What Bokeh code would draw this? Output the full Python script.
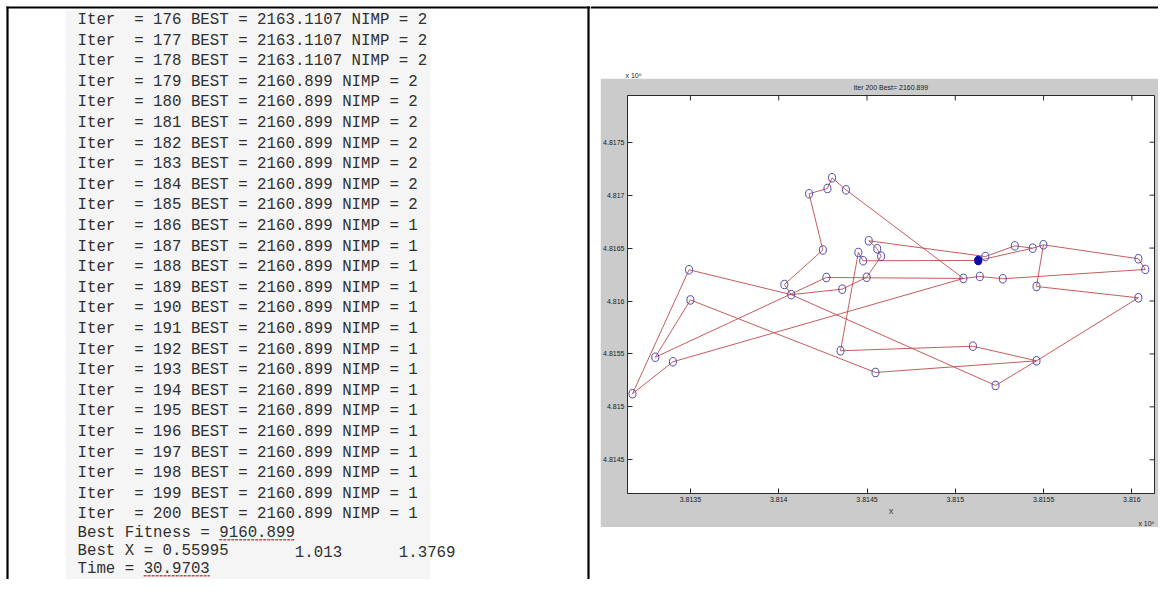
import math
from bokeh.plotting import figure
from bokeh.models import Range1d, FixedTicker, Spacer, ColumnDataSource, Title
from bokeh.layouts import row, column
from bokeh.embed import file_html
from bokeh.resources import INLINE
from bokeh.core.properties import value

# ---------------- console log (left panel) ----------------
iterations = [176, 177, 178, 179, 180, 181, 182, 183, 184, 185, 186, 187, 188,
              189, 190, 191, 192, 193, 194, 195, 196, 197, 198, 199, 200]
best_cost = ["2163.1107", "2163.1107", "2163.1107", "2160.899", "2160.899",
             "2160.899", "2160.899", "2160.899", "2160.899", "2160.899",
             "2160.899", "2160.899", "2160.899", "2160.899", "2160.899",
             "2160.899", "2160.899", "2160.899", "2160.899", "2160.899",
             "2160.899", "2160.899", "2160.899", "2160.899", "2160.899"]
nimp = [2, 2, 2, 2, 2, 2, 2, 2, 2, 2, 1, 1, 1, 1, 1, 1, 1, 1, 1, 1, 1, 1, 1, 1, 1]
best_fitness = "9160.899"
best_x = ["0.55995", "1.013", "1.3769"]
elapsed_time = "30.9703"

# ---------------- TSP tour (right panel), units of 1e6 ----------------
city_x = [3.813172, 3.813301, 3.813401, 3.813492, 3.813500, 3.814032, 3.814071,
          3.814172, 3.814276, 3.814302, 3.814381, 3.814250, 3.814270, 3.814360,
          3.814510, 3.814451, 3.814478, 3.814558, 3.814580, 3.814498, 3.815046,
          3.814350, 3.814548, 3.815130, 3.815170, 3.815139, 3.815269, 3.815337,
          3.815438, 3.815499, 3.815460, 3.816037, 3.816076, 3.816037, 3.815100,
          3.815460, 3.815228]
city_y = [4.815124, 4.815469, 4.815426, 4.816295, 4.816010, 4.816156, 4.816060,
          4.817013, 4.817063, 4.817164, 4.817050, 4.816482, 4.816222, 4.816112,
          4.816569, 4.816458, 4.816380, 4.816493, 4.816423, 4.816224, 4.816213,
          4.815530, 4.815325, 4.816383, 4.816420, 4.816232, 4.816210, 4.816521,
          4.816499, 4.816531, 4.816137, 4.816399, 4.816298, 4.816030, 4.815573,
          4.815435, 4.815202]
edge_from = [0, 0, 2, 1, 1, 3, 5, 5, 11, 7, 8, 9, 10, 6, 13, 19, 18, 17, 14, 12,
             20, 25, 26, 32, 31, 29, 28, 24, 27, 16, 15, 15, 21, 34, 22, 4, 6, 36,
             35, 33, 30]
edge_to = [3, 2, 20, 4, 12, 6, 6, 11, 7, 8, 9, 10, 20, 13, 19, 18, 17, 14, 24, 20,
           25, 26, 32, 31, 29, 28, 23, 27, 28, 23, 16, 21, 34, 35, 35, 22, 36, 35,
           33, 30, 29]
start_city = 23
x_limits = (3.8131437, 3.8161281)
y_limits = (4.8141817, 4.8179411)
x_ticks = [3.8135, 3.814, 3.8145, 3.815, 3.8155, 3.816]
x_tick_labels = ["3.8135", "3.814", "3.8145", "3.815", "3.8155", "3.816"]
y_ticks = [4.8145, 4.815, 4.8155, 4.816, 4.8165, 4.817, 4.8175]
y_tick_labels = ["4.8145", "4.815", "4.8155", "4.816", "4.8165", "4.817", "4.8175"]
plot_title = "iter 200 Best= 2160.899"
exponent_label = "x 10\u2076"

# ================= left panel: console text =================
MONO = value("Liberation Mono")
X0, CW = 77.0, 9.45          # first column, monospace char width (px)
Y0, LH = 19.5, 20.6          # first row centre, row pitch of the log rows (px)
LH_TAIL = 18.3               # pitch of the three summary rows

n_rows = len(iterations)
row_y = [Y0 + r * LH for r in range(n_rows)]
row_y += [row_y[-1] + k * LH_TAIL for k in (1, 2, 3)]

txt_x, txt_y, txt = [], [], []
def put(s, col, r):
    txt_x.append(X0 + col * CW)
    txt_y.append(row_y[r])
    txt.append(s)

for r, (it, b, n) in enumerate(zip(iterations, best_cost, nimp)):
    put("Iter", 0, r)
    put(f"= {it} BEST = {b} NIMP = {n}", 6, r)
put(f"Best Fitness = {best_fitness}", 0, n_rows)
put(f"Best X = {best_x[0]}", 0, n_rows + 1)
put(best_x[1], 23, n_rows + 1)
put(best_x[2], 34, n_rows + 1)
put(f"Time = {elapsed_time}", 0, n_rows + 2)

left = figure(width=590, height=579, x_range=Range1d(0, 590), y_range=Range1d(579, 0),
              output_backend="svg", toolbar_location=None, min_border=0,
              x_axis_location=None, y_axis_location=None)
left.grid.visible = False
left.outline_line_color = None
left.background_fill_color = "white"
left.border_fill_color = "white"

left.quad(left=[65], right=[430], top=[10], bottom=[579], fill_color="#f5f5f5", line_color=None)
left.text(x="x", y="y", text="t", source=ColumnDataSource(dict(x=txt_x, y=txt_y, t=txt)),
          text_font=MONO, text_font_size="15.75px", text_color="#303030",
          text_baseline="middle", text_align="left")
# red spell-check underlines
ul_x0 = [X0 + 15 * CW, X0 + 7 * CW]
ul_x1 = [X0 + 23 * CW, X0 + 14 * CW]
ul_y = [row_y[n_rows] + 7, row_y[n_rows + 2] + 6.5]
left.segment(x0=ul_x0, y0=ul_y, x1=ul_x1, y1=ul_y, line_color="#d04848", line_width=1.5, line_dash="3 1")
# frame lines
left.segment(x0=[7, 6, 588], y0=[6, 7, 6], x1=[7, 590, 588], y1=[579, 7, 579],
             line_color="black", line_width=2.2)

# ================= top strip (frame line + y exponent) =================
AX_FONT = "Liberation Sans"
top_strip = figure(width=568, height=78, x_range=Range1d(590, 1158), y_range=Range1d(78, 0),
                   output_backend="svg", toolbar_location=None, min_border=0,
                   x_axis_location=None, y_axis_location=None)
top_strip.grid.visible = False
top_strip.outline_line_color = None
top_strip.segment(x0=[590], y0=[7], x1=[1158], y1=[7], line_color="black", line_width=2.2)
top_strip.text(x=[625], y=[78], text=[exponent_label], text_font=value(AX_FONT),
               text_font_size="7px", text_color="#222222", text_baseline="bottom")

# ================= right panel: MATLAB-like tour plot =================
p = figure(width=558, height=449,
           x_range=Range1d(*x_limits), y_range=Range1d(*y_limits),
           output_backend="svg", toolbar_location=None,
           min_border_left=24, min_border_right=4, min_border_top=17, min_border_bottom=34)
p.border_fill_color = "#cbcbcb"
p.background_fill_color = "white"
p.outline_line_color = "#2a2a2a"
p.grid.visible = False
p.title.text = plot_title
p.title.align = "center"
p.title.vertical_align = "top"
p.title.text_font = AX_FONT
p.title.text_font_size = "7px"
p.title.text_font_style = "normal"
p.title.text_color = "#222222"
p.title.standoff = 6

xa = p.xaxis[0]
ya = p.yaxis[0]
for ax, ticks, labels in ((xa, x_ticks, x_tick_labels), (ya, y_ticks, y_tick_labels)):
    ax.ticker = FixedTicker(ticks=ticks)
    ax.major_label_overrides = dict(zip(ticks, labels))
    ax.major_tick_in = 5
    ax.major_tick_out = 0
    ax.minor_tick_line_color = None
    ax.axis_line_color = "#2a2a2a"
    ax.major_tick_line_color = "#2a2a2a"
    ax.major_label_text_font = AX_FONT
    ax.major_label_text_font_size = "7px"
    ax.major_label_text_color = "#222222"
    ax.major_label_standoff = 3
xa.axis_label = "X"
xa.axis_label_text_font = AX_FONT
xa.axis_label_text_font_size = "7px"
xa.axis_label_text_font_style = "normal"
xa.axis_label_text_color = "#222222"
xa.axis_label_standoff = 3

p.add_layout(Title(text=exponent_label, align="right", offset=0, standoff=0,
                   text_font=AX_FONT, text_font_size="7px", text_font_style="normal",
                   text_color="#222222"), "below")

# inward ticks on the top and right edges of the box (outer half is clipped by the frame)
p.scatter(x=x_ticks, y=[y_limits[1]] * len(x_ticks), marker="dash", size=10,
          angle=math.pi / 2, line_color="#2a2a2a", line_width=1)
p.scatter(x=[x_limits[1]] * len(y_ticks), y=y_ticks, marker="dash", size=10,
          line_color="#2a2a2a", line_width=1)

seg = ColumnDataSource(dict(
    x0=[city_x[a] for a in edge_from], y0=[city_y[a] for a in edge_from],
    x1=[city_x[b] for b in edge_to], y1=[city_y[b] for b in edge_to]))
p.segment(x0="x0", y0="y0", x1="x1", y1="y1", source=seg, line_color="#c04a4a",
          line_width=1, line_alpha=0.9)
p.ellipse(x=city_x, y=city_y, width=7, height=8.5, width_units="screen", height_units="screen",
          fill_color=None, line_color="#4a4ab0", line_width=1)
p.ellipse(x=[city_x[start_city]], y=[city_y[start_city]], width=7, height=8.5,
          width_units="screen", height_units="screen",
          fill_color="#0c0ca8", line_color="#0c0ca8")

right_col = column(top_strip,
                   row(Spacer(width=10, height=449), p),
                   Spacer(width=568, height=52))
layout = row(left, right_col)

open("out.html", "w").write(file_html(layout, INLINE))
